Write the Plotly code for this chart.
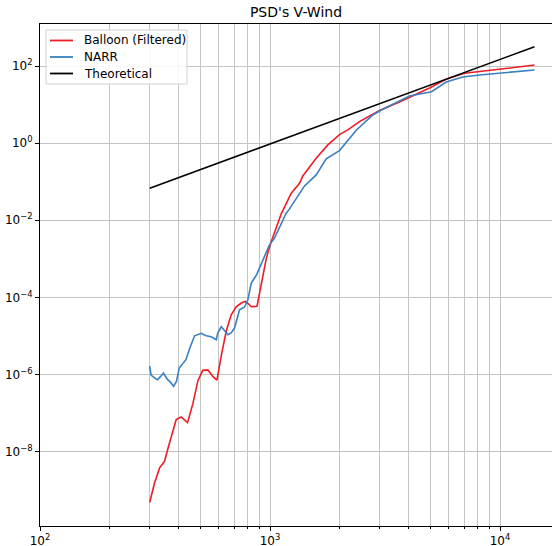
import plotly.graph_objects as go

# ---- data ----
balloon_x = [300, 315, 331, 348, 359, 372, 391, 411, 438, 462, 486, 510, 537, 564, 588,
             614, 645, 678, 713, 750, 779, 801, 829, 878, 905, 931, 963, 998, 1064, 1119,
             1237, 1344, 1389, 1588, 1784, 2005, 2179, 2450, 2993, 3656, 4938, 5855, 7011,
             8145, 9950, 14125]
balloon_y = [4.86e-10, 1.55e-9, 3.78e-9, 5.61e-9, 1.13e-8, 2.49e-8, 6.75e-8, 7.92e-8, 5.64e-8,
             1.75e-7, 6.90e-7, 1.28e-6, 1.31e-6, 8.93e-7, 7.11e-7, 3.07e-6, 1.32e-5, 3.54e-5,
             5.70e-5, 7.11e-5, 7.83e-5, 7.03e-5, 5.70e-5, 5.88e-5, 1.40e-4, 3.63e-4, 1.0e-3,
             2.17e-3, 6.75e-3, 1.47e-2, 5.04e-2, 9.14e-2, 0.141, 0.406, 0.898, 1.66, 2.20,
             3.61, 7.03, 11.7, 26.9, 46.1, 64.7, 72.0, 82.1, 106]

narr_x = [300, 304, 318, 324, 334, 344, 359, 369, 381, 392, 403, 418, 431, 447, 470, 502,
          528, 555, 584, 593, 614, 634, 656, 678, 701, 737, 775, 801, 829, 874, 900, 946,
          995, 1046, 1119, 1176, 1216, 1278, 1413, 1588, 1755, 2005, 2217, 2377, 2799,
          3093, 4042, 5037, 5837, 6893, 8145, 10640, 14125]
narr_y = [1.64e-6, 9.59e-7, 7.78e-7, 7.33e-7, 8.77e-7, 1.08e-6, 7.33e-7, 6.32e-7, 4.92e-7,
          6.62e-7, 1.47e-6, 1.99e-6, 2.42e-6, 4.66e-6, 1.01e-5, 1.17e-5, 1.01e-5, 9.53e-6,
          7.97e-6, 1.19e-5, 1.73e-5, 1.39e-5, 1.07e-5, 1.19e-5, 1.60e-5, 4.77e-5, 5.61e-5,
          8.67e-5, 2.34e-4, 3.85e-4, 5.74e-4, 1.04e-3, 2.31e-3, 3.44e-3, 8.07e-3, 1.53e-2,
          1.97e-2, 3.05e-2, 7.78e-2, 0.150, 0.390, 0.640, 1.34, 2.20, 5.38, 7.55, 16.7,
          21.6, 38.5, 51.9, 58.5, 67.0, 78.8]

theo_x = [300, 14125]
theo_y = [0.0679, 316]

series_names = ["Balloon (Filtered)", "NARR", "Theoretical"]
series_colors = ["#ee1c25", "#3a7fc0", "black"]

x_major = [100, 1000, 10000]
x_major_text = ["10<sup>2</sup>", "10<sup>3</sup>", "10<sup>4</sup>"]
x_minor = [m * d for d in (100, 1000, 10000) for m in range(2, 10)]
y_major = [1e-8, 1e-6, 1e-4, 1e-2, 1, 100]
y_major_text = ["10<sup>\u22128</sup>", "10<sup>\u22126</sup>", "10<sup>\u22124</sup>",
                "10<sup>\u22122</sup>", "10<sup>0</sup>", "10<sup>2</sup>"]

FONT = "DejaVu Sans"
GRID = "#c4c4c4"

# plot-area geometry in pixels (for the hand-drawn legend box)
W, H = 552, 546
L, R, T, B = 40, 0, 24, 20
PW, PH = W - L - R, H - T - B


def px(xp):
    return (xp - L) / PW


def py(yp):
    return (H - B - yp) / PH


fig = go.Figure()
series = [(balloon_x, balloon_y), (narr_x, narr_y), (theo_x, theo_y)]
for (sx, sy), name, color in zip(series, series_names, series_colors):
    fig.add_trace(go.Scatter(x=sx, y=sy, mode="lines", name=name, showlegend=False,
                             line=dict(color=color, width=1.6)))

# legend drawn by hand (matplotlib-like compact layout)
shapes = [dict(type="rect", xref="paper", yref="paper", x0=px(46), x1=px(187), y0=py(30), y1=py(84),
               fillcolor="rgba(255,255,255,0.85)", line=dict(color="#d0d0d0", width=1), layer="above")]
annotations = []
row_y = [40.5, 57, 73.5]
for name, color, ry in zip(series_names, series_colors, row_y):
    shapes.append(dict(type="line", xref="paper", yref="paper", x0=px(50), x1=px(73),
                       y0=py(ry), y1=py(ry), line=dict(color=color, width=1.8), layer="above"))
    annotations.append(dict(xref="paper", yref="paper", x=px(82), y=py(ry), text=name,
                            showarrow=False, xanchor="left", yanchor="middle",
                            font=dict(family=FONT, size=12, color="black")))

fig.update_layout(
    width=W, height=H,
    margin=dict(l=L, r=R, t=T, b=B),
    paper_bgcolor="white", plot_bgcolor="white",
    font=dict(family=FONT, size=12, color="black"),
    title=dict(text="PSD's V-Wind", x=296 / W, xanchor="center", y=1 - 12.5 / H, yanchor="middle",
               font=dict(family=FONT, size=14, color="black")),
    showlegend=False,
    shapes=shapes,
    annotations=annotations,
)

fig.update_xaxes(
    type="log", range=[2, 2 + 512 / 230], automargin=False,
    tickmode="array", tickvals=x_major, ticktext=x_major_text,
    ticks="outside", ticklen=4, tickcolor="black", tickwidth=1,
    showgrid=True, gridcolor=GRID, gridwidth=1,
    showline=True, linecolor="black", linewidth=1, mirror=True,
    zeroline=False,
    minor=dict(tickmode="array", tickvals=x_minor, ticks="outside", ticklen=2.4,
               tickcolor="black", showgrid=True, gridcolor=GRID, gridwidth=1),
    tickfont=dict(family=FONT, size=12, color="black"),
)
fig.update_yaxes(
    type="log", range=[-9.93, 3.09], automargin=False,
    tickmode="array", tickvals=y_major, ticktext=y_major_text,
    ticks="outside", ticklen=4, tickcolor="black", tickwidth=1,
    showgrid=True, gridcolor=GRID, gridwidth=1,
    showline=True, linecolor="black", linewidth=1, mirror=False,
    zeroline=False,
    tickfont=dict(family=FONT, size=12, color="black"),
)

fig.write_html("out.html")
